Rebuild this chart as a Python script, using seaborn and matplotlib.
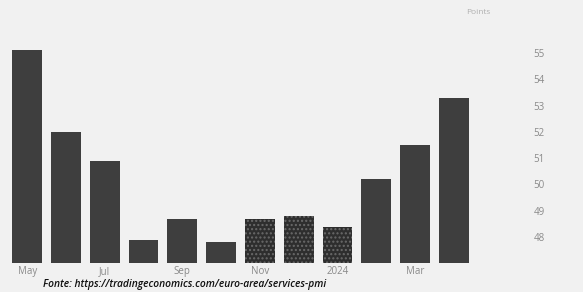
import matplotlib
matplotlib.use("Agg")
import matplotlib.pyplot as plt
import seaborn as sns
import pandas as pd

# Euro area services PMI, May 2023 - Apr 2024
months = ["May", "Jun", "Jul", "Aug", "Sep", "Oct", "Nov", "Dec", "Jan", "Feb", "Mar", "Apr"]
pmi = [55.1, 52.0, 50.9, 47.9, 48.7, 47.8, 48.7, 48.8, 48.4, 50.2, 51.5, 53.3]
tick_pos = [0, 2, 4, 6, 8, 10]
tick_labels = ["May", "Jul", "Sep", "Nov", "2024", "Mar"]
y_ticks = [48, 49, 50, 51, 52, 53, 54, 55]
textured = ["Nov", "Dec", "Jan"]

df = pd.DataFrame({"month": months, "pmi": pmi})

sns.set_style("white")
plt.rcParams["font.family"] = ["Open Sans", "DejaVu Sans"]

fig = plt.figure(figsize=(5.83, 2.92), dpi=100)
fig.patch.set_facecolor("#f1f1f1")
ax = fig.add_axes([0.01, 0.098, 0.805, 0.856])
ax.set_facecolor("#f1f1f1")

sns.barplot(data=df, x="month", y="pmi", order=months, color="#3e3e3e",
            width=0.77, saturation=1, ax=ax)
for bar, m in zip(ax.patches, months):
    bar.set_edgecolor("none")
    if m in textured:
        bar.set_facecolor("#2e2e2e")
        bar.set_hatch("....")
        bar.set_edgecolor("#6a6a6a")
        bar.set_linewidth(0)

ax.set_xlim(-0.55, 11.55)
ax.set_ylim(47.0, 56.5)
ax.set_xticks(tick_pos)
ax.set_xticklabels(tick_labels)
ax.yaxis.tick_right()
ax.set_yticks(y_ticks)
ax.tick_params(axis="y", length=0, pad=42, labelsize=7, labelcolor="#8a8a8a")
ax.tick_params(axis="x", length=0, pad=2, labelsize=7, labelcolor="#8a8a8a")
ax.set_xlabel("")
ax.set_ylabel("")
for s in ax.spines.values():
    s.set_visible(False)

fig.text(0.82, 0.958, "Points", fontsize=6, color="#b0b0b0", ha="center", va="center")
fig.text(0.074, 0.024, "Fonte: https://tradingeconomics.com/euro-area/services-pmi",
         fontsize=7.4, style="italic", weight="semibold", color="#111111",
         ha="left", va="center")

fig.savefig("out.png", dpi=100, facecolor=fig.get_facecolor())
